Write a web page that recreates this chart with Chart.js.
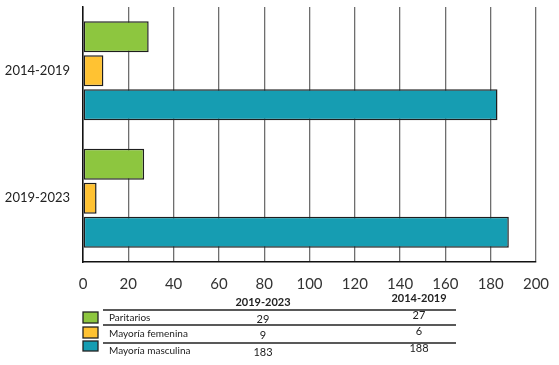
<!DOCTYPE html>
<html>
<head>
<meta charset="utf-8">
<script src="https://cdn.jsdelivr.net/npm/chart.js@4/dist/chart.umd.min.js"></script>
<style>
  html, body { margin: 0; padding: 0; background: #fff; }
  #wrap { width: 559px; height: 365px; position: relative; }
</style>
</head>
<body>
<div id="wrap"><canvas id="c" width="559" height="365"></canvas></div>
<script>
const categories = ['2014-2019', '2019-2023'];
const seriesNames = ['Paritarios', 'Mayoría femenina', 'Mayoría masculina'];
const paritarios = [29, 27];
const femenina = [9, 6];
const masculina = [183, 188];
const seriesColors = ['#8dc63f', '#ffc232', '#169db2'];
const tableColumns = ['2019-2023', '2014-2019'];
const xMin = 0, xMax = 200, xStep = 20;

const seriesValues = [paritarios, femenina, masculina];
const FONT = 'Lato, "Open Sans", sans-serif';

const tablePlugin = {
  id: 'tablePlugin',
  afterDraw(chart) {
    const ctx = chart.ctx;
    ctx.save();
    const colX = [263, 419];
    const colDy = [0, -4];
    ctx.fillStyle = '#222';
    ctx.textAlign = 'center';
    ctx.textBaseline = 'middle';
    ctx.font = 'bold 11px ' + FONT;
    tableColumns.forEach((h, i) => ctx.fillText(h, colX[i], 302 + colDy[i]));
    ctx.strokeStyle = '#222';
    ctx.lineWidth = 1.3;
    [310, 325, 343].forEach(y => {
      ctx.beginPath(); ctx.moveTo(103, y); ctx.lineTo(456, y); ctx.stroke();
    });
    const rowY = [318, 334, 351];
    const swatchY = [[312, 323], [327, 338], [341, 351]];
    seriesNames.forEach((name, r) => {
      ctx.fillStyle = seriesColors[r];
      ctx.fillRect(83, swatchY[r][0], 15, swatchY[r][1] - swatchY[r][0]);
      ctx.lineWidth = 1.3;
      ctx.strokeStyle = '#222';
      ctx.strokeRect(83, swatchY[r][0], 15, swatchY[r][1] - swatchY[r][0]);
      ctx.fillStyle = '#222';
      ctx.textAlign = 'left';
      ctx.font = '10px ' + FONT;
      ctx.fillText(name, 109, rowY[r]);
      ctx.textAlign = 'center';
      ctx.font = '11px ' + FONT;
      tableColumns.forEach((h, c) => {
        ctx.fillText(String(seriesValues[r][c]), colX[c], rowY[r] + 1 + colDy[c]);
      });
    });
    ctx.restore();
  }
};

new Chart(document.getElementById('c'), {
  type: 'bar',
  data: {
    labels: categories,
    datasets: seriesNames.map((n, i) => ({
      label: n,
      data: seriesValues[i],
      backgroundColor: seriesColors[i],
      borderColor: '#1e1e1e',
      borderWidth: 1.5,
      borderSkipped: false,
      categoryPercentage: 0.8,
      barPercentage: 0.91
    }))
  },
  options: {
    indexAxis: 'y',
    responsive: false,
    animation: false,
    devicePixelRatio: 1,
    layout: { padding: { top: 7, right: 23, bottom: 63, left: 0 } },
    plugins: { legend: { display: false }, tooltip: { enabled: false } },
    scales: {
      x: {
        min: xMin, max: xMax,
        ticks: { stepSize: xStep, color: '#333', font: { family: FONT, size: 15 }, padding: 13 },
        grid: { color: '#6e6e6e', lineWidth: 1.3, drawTicks: false },
        border: { color: '#111', width: 1.5 },
        afterFit(s) { s.height = 40; s.paddingLeft = 0; s.paddingRight = 0; }
      },
      y: {
        ticks: { color: '#222', font: { family: FONT, size: 13 }, padding: 13 },
        grid: { display: false, drawTicks: false },
        border: { color: '#111', width: 1.5 },
        afterFit(s) { s.width = 83; s.paddingTop = 0; s.paddingBottom = 0; }
      }
    }
  },
  plugins: [tablePlugin]
});
</script>
</body>
</html>
